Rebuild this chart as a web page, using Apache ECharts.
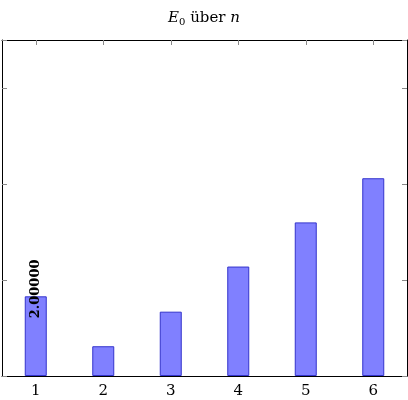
<!DOCTYPE html>
<html><head><meta charset="utf-8">
<script src="https://cdn.jsdelivr.net/npm/echarts@6/dist/echarts.min.js"></script>
<style>html,body{margin:0;padding:0;background:#fff}</style>
</head><body>
<div id="main" style="width:408px;height:400px"></div>
<script>
// Daten
var categories = ['1', '2', '3', '4', '5', '6'];
var energies = [0.83, 0.31, 0.67, 1.14, 1.60, 2.06];
var barLabel = '2.00000';

var chart = echarts.init(document.getElementById('main'));
var serif = 'DejaVu Serif';
var tickStyle = { show: true, inside: true, length: 5, lineStyle: { color: '#888' } };

chart.setOption({
  animation: false,
  title: {
    text: '{i|E}{s|0} über {i|n}',
    left: 'center', top: 4,
    textStyle: {
      fontFamily: serif, fontSize: 15, fontWeight: 'normal', color: '#000',
      rich: {
        i: { fontFamily: serif, fontStyle: 'italic', fontSize: 15 },
        s: { fontFamily: serif, fontSize: 10, verticalAlign: 'bottom', padding: [8, 0, 0, 0] }
      }
    }
  },
  grid: { left: 2, right: 1, top: 40, bottom: 24 },
  xAxis: [{
    type: 'category', data: categories,
    axisLine: { onZero: false, lineStyle: { color: '#000' } },
    axisTick: { show: true, inside: true, alignWithLabel: true, length: 5, lineStyle: { color: '#888' } },
    axisLabel: { color: '#000', fontFamily: serif, fontSize: 15, margin: 8 }
  }, {
    type: 'category', data: categories, position: 'top',
    axisLine: { onZero: false, lineStyle: { color: '#000' } },
    axisTick: { show: true, inside: true, alignWithLabel: true, length: 5, lineStyle: { color: '#888' } },
    axisLabel: { show: false }
  }],
  yAxis: [{
    type: 'value', min: 0, max: 3.5, interval: 1,
    axisLine: { show: true, lineStyle: { color: '#000' } },
    axisTick: tickStyle, axisLabel: { show: false }, splitLine: { show: false }
  }, {
    type: 'value', min: 0, max: 3.5, interval: 1, position: 'right',
    axisLine: { show: true, lineStyle: { color: '#000' } },
    axisTick: tickStyle, axisLabel: { show: false }, splitLine: { show: false }
  }],
  series: [{
    type: 'bar', barWidth: 22,
    data: energies.map(function (v, i) {
      return i === 0 ? {
        value: v,
        label: {
          show: true, position: 'top', rotate: 90, align: 'left', verticalAlign: 'middle',
          distance: -22,
          formatter: barLabel, color: '#000', fontFamily: serif, fontWeight: 'bold', fontSize: 13
        }
      } : v;
    }),
    itemStyle: { color: '#8080ff', borderColor: '#3333cc', borderWidth: 1 }
  }]
});
</script>
</body></html>
